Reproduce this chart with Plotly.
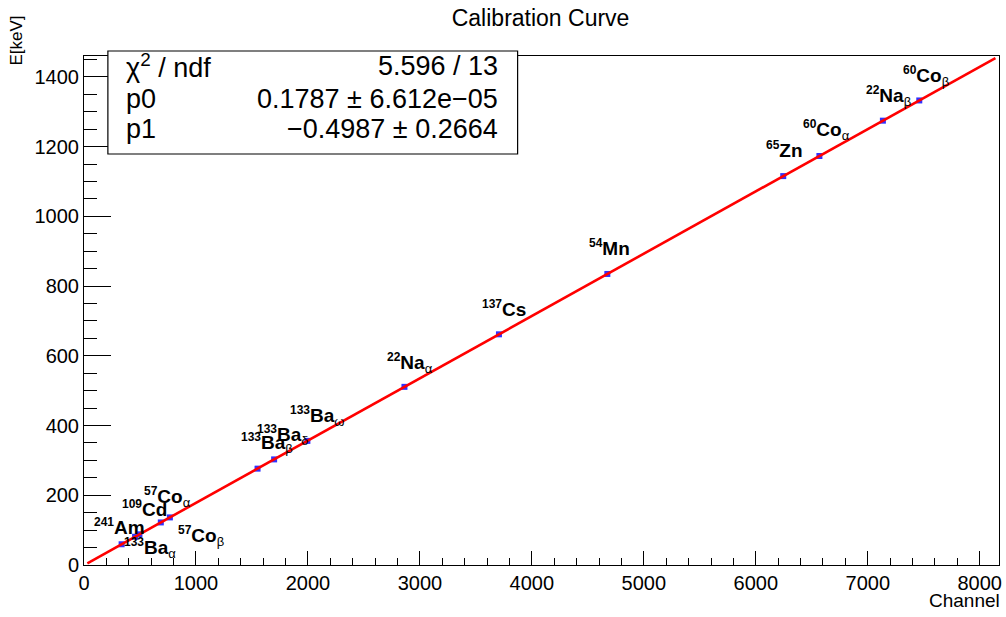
import plotly.graph_objects as go

# ---------------- data ----------------
isotopes = ["241", "133", "109", "57", "57", "133", "133", "133",
            "22", "137", "54", "65", "60", "22", "60"]
elements = ["Am", "Ba", "Cd", "Co", "Co", "Ba", "Ba", "Ba",
            "Na", "Cs", "Mn", "Zn", "Co", "Na", "Co"]
peak_tags = ["", "α", "", "α", "β", "β", "δ", "ω",
             "α", "", "", "", "α", "β", "β"]
channels = [336, 456, 495, 686, 767, 1550, 1698, 1995,
            2862, 3706, 4674, 6245, 6568, 7135, 7460]
energies_keV = [59.5, 81.0, 88.0, 122.1, 136.5, 276.4, 302.9, 356.0,
                511.0, 661.7, 834.8, 1115.5, 1173.2, 1274.5, 1332.5]

fit_p0 = 0.1787      # slope (keV / channel)
fit_p1 = -0.4987     # offset (keV)
fit_range = [30, 8140]
stats_names = ["χ<sup>2</sup> / ndf", "p0", "p1"]
stats_values = ["5.596 / 13", "0.1787 ± 6.612e−05", "−0.4987 ± 0.2664"]

x_range = [0, 8172]
y_range = [0, 1460]

# ---------------- styling: label offsets in pixels ----------------
label_offsets = [(-29, 5), (-12, -25), (-18, 13), (-18, 11), (7, -33),
                 (-18, 12), (-18, 10), (-18, 11), (-18, 10), (-18, 13),
                 (-19, 14), (-18, 14), (-17, 12), (-18, 11), (-17, 10)]

FONT = "Liberation Sans, Arial, Helvetica, sans-serif"

fig = go.Figure()

fig.add_trace(go.Scatter(
    x=channels, y=energies_keV, mode="markers",
    marker=dict(symbol="square", size=6, color="#3030ff", line=dict(width=0)),
    showlegend=False, hoverinfo="x+y"))

fit_x = fit_range
fit_y = [fit_p0 * v + fit_p1 for v in fit_x]
fig.add_trace(go.Scatter(
    x=fit_x, y=fit_y, mode="lines",
    line=dict(color="#ff0000", width=2.6),
    showlegend=False, hoverinfo="skip"))

annotations = []
for iso, el, tag, ch, en, (dx, dy) in zip(isotopes, elements, peak_tags,
                                            channels, energies_keV, label_offsets):
    txt = (f"<b><sup><span style='font-size:12px'>{iso}</span></sup>"
           f"{el}</b>")
    if tag:
        txt += (f"<sub><span style='font-weight:normal;font-size:13px'>"
                f"{tag}</span></sub>")
    annotations.append(dict(
        x=ch, y=en, xref="x", yref="y", text=txt, showarrow=False,
        xanchor="left", yanchor="bottom", xshift=dx, yshift=dy,
        borderpad=0, font=dict(family=FONT, size=19, color="black")))

# stats box text
row_y = [0.980, 0.9155, 0.8566]
for name, val, yy in zip(stats_names, stats_values, row_y):
    annotations.append(dict(x=0.0447, y=yy, xref="paper", yref="paper",
                            text=name, showarrow=False, xanchor="left",
                            yanchor="middle", borderpad=0,
                            font=dict(family=FONT, size=27, color="black")))
    annotations.append(dict(x=0.454, y=yy, xref="paper", yref="paper",
                            text=val, showarrow=False, xanchor="right",
                            yanchor="middle", borderpad=0,
                            font=dict(family=FONT, size=27, color="black")))

# axis titles
annotations.append(dict(x=-0.074, y=1.031, xref="paper", yref="paper",
                        text="E[keV]", textangle=-90, showarrow=False,
                        xanchor="center", yanchor="middle",
                        font=dict(family=FONT, size=17, color="black")))
annotations.append(dict(x=1.0, y=-0.069, xref="paper", yref="paper",
                        text="Channel", showarrow=False, xshift=3,
                        xanchor="right", yanchor="middle",
                        font=dict(family=FONT, size=19, color="black")))

fig.update_layout(
    width=1006, height=617,
    margin=dict(l=84, r=4, t=56, b=52),
    paper_bgcolor="white", plot_bgcolor="white",
    title=dict(text="Calibration Curve", x=0.499, xref="paper",
               y=1 - 18 / 617, yref="container", xanchor="center",
               yanchor="middle",
               font=dict(family=FONT, size=23, color="black")),
    annotations=annotations,
    shapes=[dict(type="rect", xref="paper", yref="paper",
                 x0=0.0261, x1=0.4739, y0=0.8075, y1=1.0098,
                 line=dict(color="black", width=1.2), fillcolor="white",
                 layer="above")],
    font=dict(family=FONT, color="black"),
)

fig.update_xaxes(range=x_range, showgrid=False, zeroline=False,
                 showline=True, linecolor="black", linewidth=1, mirror=True,
                 ticks="inside", ticklen=14, tickcolor="black", dtick=1000,
                 tick0=0, tickfont=dict(family=FONT, size=20, color="black"),
                 minor=dict(ticks="inside", ticklen=7, dtick=200,
                            tickcolor="black", showgrid=False))
fig.update_yaxes(range=y_range, showgrid=False, zeroline=False,
                 showline=True, linecolor="black", linewidth=1, mirror=True,
                 ticks="inside", ticklen=27, tickcolor="black", dtick=200,
                 tick0=0, tickfont=dict(family=FONT, size=20, color="black"),
                 minor=dict(ticks="inside", ticklen=13, dtick=50,
                            tickcolor="black", showgrid=False))

fig.write_html("out.html")
